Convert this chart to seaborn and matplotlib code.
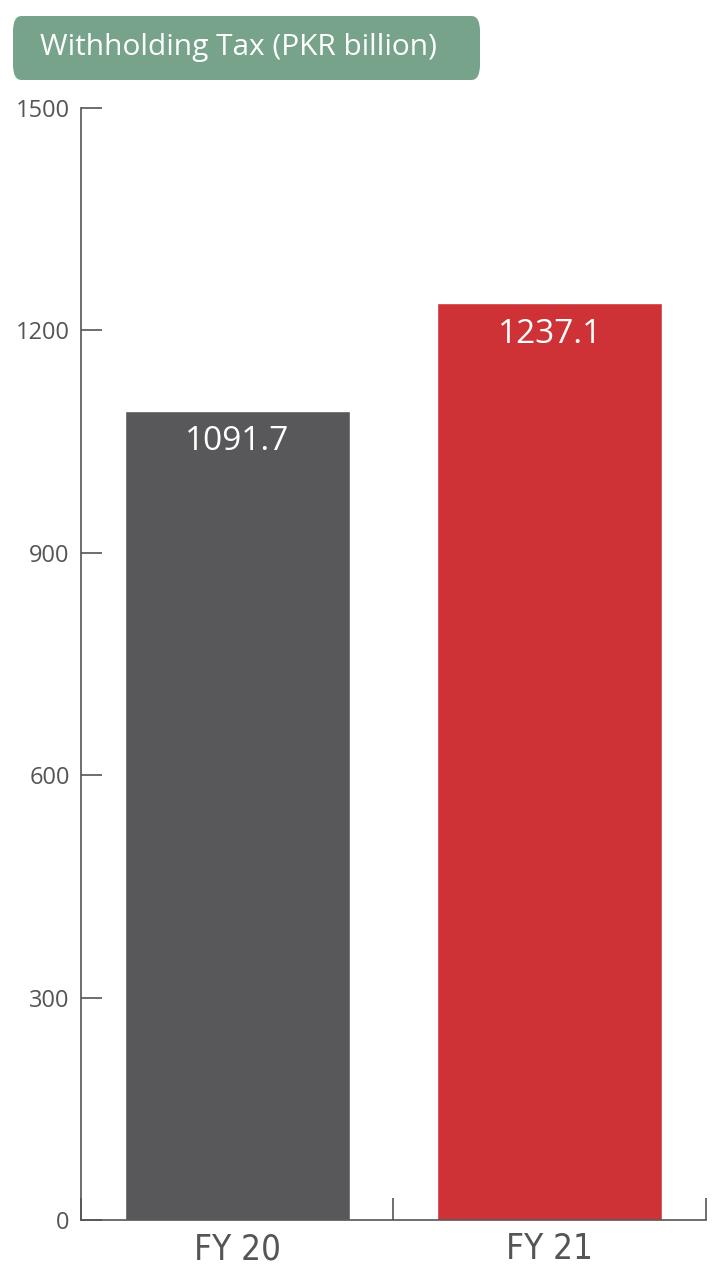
import matplotlib.pyplot as plt
import matplotlib.patches as mpatches
import pandas as pd
import seaborn as sns

# values
years = ["FY 20", "FY 21"]
tax = [1091.7, 1237.1]
colors = ["#58585a", "#cf3236"]
y_ticks = [0, 300, 600, 900, 1200, 1500]

df = pd.DataFrame({"year": years, "tax": tax})

sns.set_style("white")
plt.rcParams["font.family"] = ["Open Sans", "DejaVu Sans"]

fig = plt.figure(figsize=(7.14, 12.8), dpi=100)
ax = fig.add_axes([0.1134, 0.0469, 0.8754, 0.8687])

sns.barplot(data=df, x="year", y="tax", hue="year", palette=colors,
            width=0.72, saturation=1, legend=False, ax=ax)

# value labels inside the bar tops
for i, v in enumerate(tax):
    ax.text(i, v - 42, f"{v:.1f}", ha="center", va="center",
            color="white", fontsize=24)

ax.set_xlim(-0.5, 1.5)
ax.set_ylim(0, 1500)
ax.set_yticks(y_ticks)
ax.set_xlabel("")
ax.set_ylabel("")

# boundary ticks between the categories, labels in the middle
ax.set_xticks([-0.5, 0.5, 1.5])
ax.set_xticklabels([])
ax.set_xticks([0, 1], minor=True)
ax.set_xticklabels(years, minor=True, fontsize=25, color="#555555",
                   family=["DejaVu Sans"], fontstretch="condensed")
ax.tick_params(axis="x", which="minor", length=0, pad=9, bottom=True)
ax.tick_params(axis="x", which="major", direction="in", length=16,
               width=1.2, color="#555555", bottom=True)
ax.tick_params(axis="y", direction="in", length=15, width=1.2, left=True,
               color="#555555", labelsize=17, labelcolor="#555555", pad=8)

sns.despine(ax=ax)
for s in ["left", "bottom"]:
    ax.spines[s].set_color("#555555")
    ax.spines[s].set_linewidth(1.2)

# green title box
box = mpatches.FancyBboxPatch((13 / 714, 1 - 80 / 1280), 467 / 714, 64 / 1280,
                              boxstyle="round,pad=0,rounding_size=0.012",
                              transform=fig.transFigure, facecolor="#76a38a",
                              edgecolor="none")
fig.patches.append(box)
fig.text(40 / 714, 1 - 48 / 1280, "Withholding Tax (PKR billion)",
         ha="left", va="center", color="white", fontsize=21.5)

plt.savefig("out.png", dpi=100)
